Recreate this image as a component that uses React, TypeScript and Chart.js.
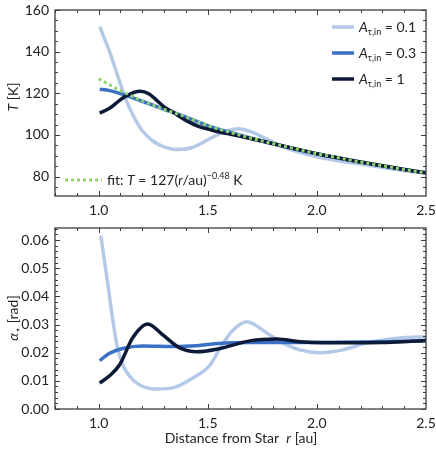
import React, { useEffect, useRef } from "react";
import { Chart, registerables } from "chart.js";
Chart.register(...registerables);

// ---------- data ----------
const rLowT = [1.005, 1.05, 1.09, 1.125, 1.16, 1.2, 1.25, 1.3, 1.36, 1.43, 1.52, 1.58, 1.64, 1.7, 1.76, 1.85, 2.0, 2.2, 2.35, 2.5];
const tLow = [152, 140, 127.5, 117, 109, 102, 97, 94.3, 93, 94, 98.8, 101.8, 103, 101.5, 98.5, 94, 89.5, 86, 83.6, 81.5];

const rMidT = [1.005, 1.05, 1.11, 1.2, 1.3, 1.4, 1.5, 1.6, 1.7, 1.8, 2.0, 2.2, 2.4, 2.5];
const tMid = [122, 121.3, 119.5, 116.2, 112.3, 108.6, 104.5, 101.3, 98.4, 95.8, 91.0, 87.0, 83.4, 81.8];

const rHighT = [1.005, 1.05, 1.096, 1.13, 1.19, 1.23, 1.266, 1.3, 1.34, 1.4, 1.46, 1.52, 1.6, 1.7, 1.8, 1.9, 2.0, 2.2, 2.4, 2.5];
const tHigh = [110.5, 112.8, 116.6, 119, 121, 119.8, 116.6, 113.5, 111, 107, 104, 102.3, 100.4, 98.2, 95.8, 93.4, 91.0, 87.0, 83.4, 81.8];

const rFit = [1.0, 1.1, 1.2, 1.3, 1.4, 1.5, 1.6, 1.7, 1.8, 1.9, 2.0, 2.1, 2.2, 2.3, 2.4, 2.5];
const tFit = [127, 121.3, 116.4, 112.3, 108.6, 104.5, 101.3, 98.4, 95.8, 93.4, 91.0, 89.0, 87.0, 85.2, 83.4, 81.8];

const rLowA = [1.01, 1.04, 1.064, 1.087, 1.11, 1.14, 1.188, 1.266, 1.339, 1.431, 1.509, 1.56, 1.61, 1.679, 1.771, 1.844, 1.922, 2.014, 2.119, 2.229, 2.349, 2.459, 2.5];
const aLow = [0.0615, 0.0455, 0.032, 0.0215, 0.0158, 0.0118, 0.0085, 0.0071, 0.0075, 0.011, 0.0155, 0.022, 0.0275, 0.031, 0.027, 0.0235, 0.021, 0.02, 0.021, 0.0235, 0.025, 0.0256, 0.0255];

const rMidA = [1.005, 1.05, 1.11, 1.2, 1.34, 1.46, 1.55, 1.7, 1.9, 2.1, 2.3, 2.5];
const aMid = [0.0172, 0.0198, 0.0215, 0.0224, 0.0222, 0.0226, 0.0233, 0.0236, 0.0236, 0.0237, 0.0239, 0.0242];

const rHighA = [1.005, 1.05, 1.096, 1.156, 1.225, 1.294, 1.372, 1.45, 1.546, 1.693, 1.817, 1.922, 2.028, 2.151, 2.303, 2.459, 2.5];
const aHigh = [0.0092, 0.0118, 0.0157, 0.0253, 0.0302, 0.0263, 0.0217, 0.0203, 0.0213, 0.0242, 0.0249, 0.0239, 0.0235, 0.0235, 0.0236, 0.0242, 0.0243];

const xTicks = [1.0, 1.5, 2.0, 2.5];
const tTicks = [80, 100, 120, 140, 160];
const aTicks = [0, 0.01, 0.02, 0.03, 0.04, 0.05, 0.06];
const legendValues = ["0.1", "0.3", "1"];

const C_LOW = "#b4c9e8";
const C_MID = "#3a70c6";
const C_HIGH = "#0c1a38";
const C_FIT = "#92d46c";
const FONT = "Lato, 'Open Sans', sans-serif";
const TXT = "#222";
const AX = "#3c3c3c";

const pts = (xs: number[], ys: number[]) => xs.map((x, i) => ({ x, y: ys[i] }));

const frameTicks = {
  id: "frameTicks",
  afterDraw(chart: any, _a: any, opts: any) {
    const { ctx, chartArea: a, scales } = chart;
    const x = scales.x, y = scales.y;
    ctx.save();
    ctx.strokeStyle = AX;
    ctx.lineWidth = 1;
    const seg = (x1: number, y1: number, x2: number, y2: number) => {
      ctx.beginPath(); ctx.moveTo(x1, y1); ctx.lineTo(x2, y2); ctx.stroke();
    };
    const eps = 1e-9;
    const isMajor = (v: number, arr: number[]) => arr.some((m) => Math.abs(m - v) < 1e-7);
    for (let v = opts.xMinStart; v <= x.max + eps; v += opts.xMinor) {
      const vv = Math.round(v * 1e6) / 1e6;
      const len = isMajor(vv, opts.xMajor) ? 5 : 3;
      const p = Math.round(x.getPixelForValue(vv)) + 0.5;
      if (p < a.left || p > a.right) continue;
      seg(p, a.bottom, p, a.bottom - len);
      seg(p, a.top, p, a.top + len);
    }
    for (let v = opts.yMinStart; v <= y.max + eps; v += opts.yMinor) {
      const vv = Math.round(v * 1e6) / 1e6;
      const len = isMajor(vv, opts.yMajor) ? 5 : 3;
      const p = Math.round(y.getPixelForValue(vv)) + 0.5;
      if (p < a.top - 0.5 || p > a.bottom + 0.5) continue;
      seg(a.left, p, a.left + len, p);
      seg(a.right, p, a.right - len, p);
    }
    ctx.lineWidth = 1.3;
    ctx.strokeRect(a.left, a.top, a.right - a.left, a.bottom - a.top);
    ctx.restore();
  },
};

// draw mixed-style text runs
type Run = { t: string; style?: string; size?: number; dy?: number };
function drawRuns(ctx: CanvasRenderingContext2D, runs: Run[], x: number, y: number, align: "left" | "center" = "left") {
  let w = 0;
  for (const r of runs) {
    ctx.font = `${r.style || ""} ${r.size || 14}px ${FONT}`;
    w += ctx.measureText(r.t).width;
  }
  let cx = align === "center" ? x - w / 2 : x;
  ctx.textBaseline = "alphabetic";
  ctx.textAlign = "left";
  for (const r of runs) {
    ctx.font = `${r.style || ""} ${r.size || 14}px ${FONT}`;
    ctx.fillText(r.t, cx, y + (r.dy || 0));
    cx += ctx.measureText(r.t).width;
  }
}

const topDecor = {
  id: "topDecor",
  afterDraw(chart: any) {
    const { ctx } = chart;
    ctx.save();
    ctx.fillStyle = TXT;
    // y title
    ctx.save();
    ctx.translate(18, 97);
    ctx.rotate(-Math.PI / 2);
    drawRuns(ctx, [{ t: "T", style: "italic" }, { t: " [K]" }], 0, 0, "center");
    ctx.restore();
    // legend
    const cols = [C_LOW, C_MID, C_HIGH];
    const ys = [27, 53, 79];
    cols.forEach((c, i) => {
      ctx.strokeStyle = c;
      ctx.lineWidth = 3.5;
      ctx.beginPath(); ctx.moveTo(332, ys[i]); ctx.lineTo(354, ys[i]); ctx.stroke();
      ctx.fillStyle = TXT;
      drawRuns(ctx, [
        { t: "A", style: "italic" },
        { t: "τ,in", size: 9, dy: 3 },
        { t: " = " + legendValues[i] },
      ], 359, ys[i] + 5);
    });
    // fit label
    ctx.strokeStyle = C_FIT;
    ctx.lineWidth = 3;
    ctx.setLineDash([3, 3]);
    ctx.beginPath(); ctx.moveTo(65, 180); ctx.lineTo(102, 180); ctx.stroke();
    ctx.setLineDash([]);
    ctx.fillStyle = TXT;
    drawRuns(ctx, [
      { t: "fit: " },
      { t: "T", style: "italic" },
      { t: " = 127(" },
      { t: "r", style: "italic", size: 13 },
      { t: "/au)" },
      { t: "−0.48", size: 9, dy: -6 },
      { t: " K" },
    ], 107, 185);
    ctx.restore();
  },
};

const bottomDecor = {
  id: "bottomDecor",
  afterDraw(chart: any) {
    const { ctx } = chart;
    ctx.save();
    ctx.fillStyle = TXT;
    ctx.save();
    ctx.translate(18, 93);
    ctx.rotate(-Math.PI / 2);
    drawRuns(ctx, [{ t: "α", style: "italic" }, { t: "⋆", size: 10, dy: 3 }, { t: " [rad]" }], 0, 0, "center");
    ctx.restore();
    drawRuns(ctx, [{ t: "Distance from Star  " }, { t: "r", style: "italic" }, { t: " [au]" }], 241, 218, "center");
    ctx.restore();
  },
};

function lineDs(label: string, data: any[], color: string, order: number, extra: any = {}) {
  return {
    label,
    data,
    order,
    borderColor: color,
    backgroundColor: color,
    borderWidth: 3.5,
    pointRadius: 0,
    cubicInterpolationMode: "monotone",
    fill: false,
    ...extra,
  };
}

function baseOptions(yMin: number, yMax: number, yTicks: number[], yFmt: (v: number) => string, xH: number, pad: any, frame: any) {
  return {
    animation: false,
    responsive: false,
    maintainAspectRatio: false,
    layout: { padding: pad },
    plugins: { legend: { display: false }, tooltip: { enabled: false }, frameTicks: frame },
    scales: {
      x: {
        type: "linear",
        min: 0.8,
        max: 2.5,
        grid: { display: false, drawTicks: false },
        border: { display: false },
        afterBuildTicks: (s: any) => { s.ticks = xTicks.map((v) => ({ value: v })); },
        afterFit: (s: any) => { s.height = xH; s.paddingLeft = 0; s.paddingRight = 0; },
        ticks: {
          padding: 6,
          color: TXT,
          font: { family: FONT, size: 14 },
          maxRotation: 0,
          callback: (v: any) => Number(v).toFixed(1),
        },
      },
      y: {
        type: "linear",
        min: yMin,
        max: yMax,
        grid: { display: false, drawTicks: false },
        border: { display: false },
        afterBuildTicks: (s: any) => { s.ticks = yTicks.map((v) => ({ value: v })); },
        afterFit: (s: any) => { s.width = 55; s.paddingTop = 0; s.paddingBottom = 0; },
        ticks: {
          padding: 6,
          color: TXT,
          font: { family: FONT, size: 14 },
          callback: (v: any) => yFmt(Number(v)),
        },
      },
    },
  };
}

export default function App() {
  const topRef = useRef<HTMLCanvasElement>(null);
  const botRef = useRef<HTMLCanvasElement>(null);
  useEffect(() => {
    const top = new Chart(topRef.current as any, {
      type: "line",
      data: {
        datasets: [
          lineDs("A=0.1", pts(rLowT, tLow), C_LOW, 3),
          lineDs("A=0.3", pts(rMidT, tMid), C_MID, 2),
          lineDs("A=1", pts(rHighT, tHigh), C_HIGH, 1),
          lineDs("fit", pts(rFit, tFit), C_FIT, 0, { borderDash: [3, 3], borderWidth: 3 }),
        ],
      },
      options: baseOptions(70.7, 160, tTicks, (v) => String(Math.round(v)), 29, { top: 10, right: 10, left: 0, bottom: 0 },
        { xMinStart: 0.8, xMinor: 0.1, xMajor: xTicks, yMinStart: 75, yMinor: 5, yMajor: tTicks }) as any,
      plugins: [frameTicks, topDecor],
    });
    const bot = new Chart(botRef.current as any, {
      type: "line",
      data: {
        datasets: [
          lineDs("A=0.1", pts(rLowA, aLow), C_LOW, 3),
          lineDs("A=0.3", pts(rMidA, aMid), C_MID, 2),
          lineDs("A=1", pts(rHighA, aHigh), C_HIGH, 1),
        ],
      },
      options: baseOptions(0, 0.0643, aTicks, (v) => v.toFixed(2), 53, { top: 3, right: 10, left: 0, bottom: 0 },
        { xMinStart: 0.8, xMinor: 0.1, xMajor: xTicks, yMinStart: 0, yMinor: 0.002, yMajor: aTicks }) as any,
      plugins: [frameTicks, bottomDecor],
    });
    return () => { top.destroy(); bot.destroy(); };
  }, []);
  return (
    <div style={{ position: "fixed", left: 0, top: 0, width: 436, height: 462, background: "#fff" }}>
      <canvas ref={topRef} width={436} height={225} style={{ position: "absolute", left: 0, top: 0, width: 436, height: 225 }} />
      <canvas ref={botRef} width={436} height={237} style={{ position: "absolute", left: 0, top: 225, width: 436, height: 237 }} />
    </div>
  );
}
